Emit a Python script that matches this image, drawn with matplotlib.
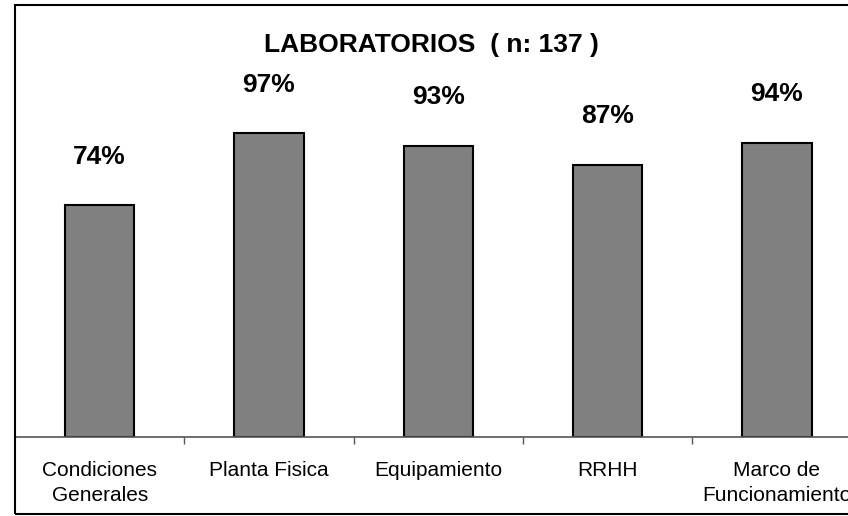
import numpy as np
import matplotlib.pyplot as plt
from matplotlib.patches import Rectangle

plt.rcParams['font.family'] = ['Liberation Sans', 'DejaVu Sans']

# datos
categorias = ['Condiciones\nGenerales', 'Planta Fisica', 'Equipamiento', 'RRHH',
              'Marco de\nFuncionamiento']
valores = [74, 97, 93, 87, 94]
titulo = 'LABORATORIOS  ( n: 137 )'

W, H = 848, 516
fig = plt.figure(figsize=(W / 100, H / 100), dpi=100)

# ejes: eje x en y=437 px, cada categoria ~169.3 px de ancho
paso = 169.3
x0, x1 = 15, 848
y_base, y_top = 437, 30
ax = fig.add_axes([x0 / W, (H - y_base) / H, (x1 - x0) / W, (y_base - y_top) / H])

x = np.arange(len(valores))
ax.bar(x, valores, width=0.41, color='#808080', edgecolor='black', linewidth=1.5)

px_por_pct = 3.13
ax.set_ylim(0, (y_base - y_top) / px_por_pct)
ax.set_xlim(-0.5, (x1 - x0) / paso - 0.5)

for xi, v in zip(x, valores):
    ax.annotate(f'{v}%', (xi, v), xytext=(0, 35), textcoords='offset points',
                ha='center', va='center', fontsize=19, fontweight='bold')

ax.set_xticks(x)
ax.set_xticklabels(categorias, fontsize=15, linespacing=1.45)
ax.set_xticks(np.arange(len(valores) - 1) + 0.5, minor=True)
ax.tick_params(axis='x', which='major', length=0, pad=17)
ax.tick_params(axis='x', which='minor', length=5, color='#555555', width=1)
ax.set_yticks([])
for s in ['top', 'right', 'left']:
    ax.spines[s].set_visible(False)
ax.spines['bottom'].set_color('#555555')
ax.spines['bottom'].set_linewidth(1.2)

fig.text(0.5 + 7 / W, 1 - 45 / H, titulo, ha='center', va='center',
         fontsize=19, fontweight='bold')

# marco
fig.patches.append(Rectangle((14.5 / W, 2 / H), 1.0, 1 - 6.5 / H,
                             transform=fig.transFigure, fill=False,
                             edgecolor='black', linewidth=1.5))

fig.savefig('out.png', dpi=100)
